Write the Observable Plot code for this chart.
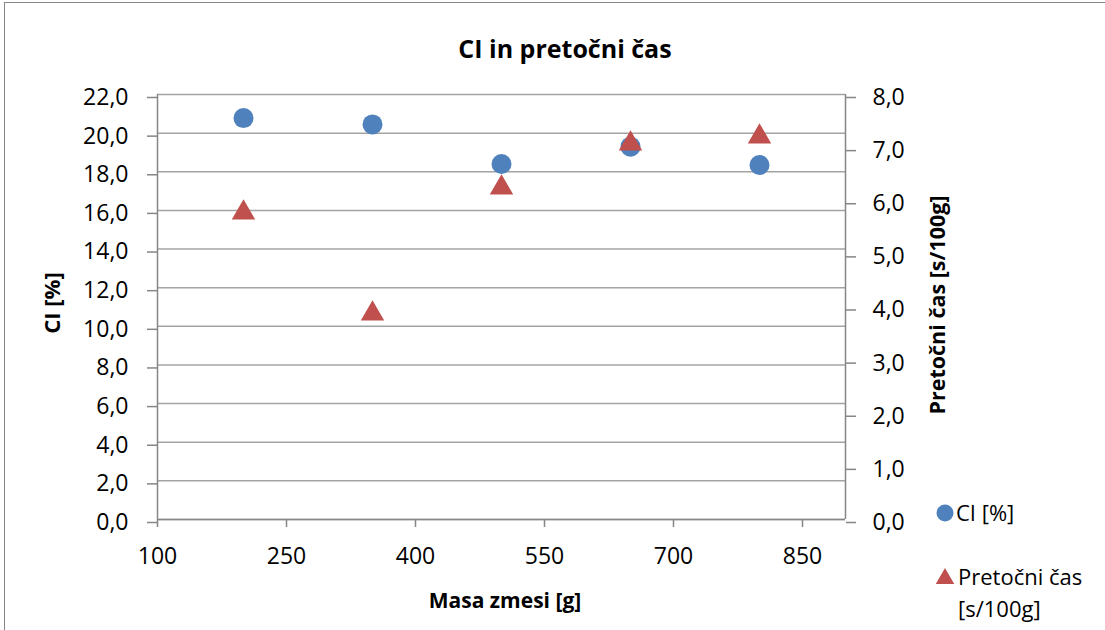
<!DOCTYPE html>
<html>
<head>
<meta charset="utf-8">
<script src="https://cdn.jsdelivr.net/npm/d3@7"></script>
<script src="https://cdn.jsdelivr.net/npm/@observablehq/plot@0.6"></script>
<style>
  html, body { margin: 0; padding: 0; background: #fff; }
  #chart { width: 1105px; height: 630px; }
</style>
</head>
<body>
<div id="chart"></div>
<script>
// ---- data ----
const masa = [200, 350, 500, 650, 800];
const ciValues = [20.78, 20.45, 18.4, 19.3, 18.35];
const casValues = [5.84, 3.94, 6.31, 7.14, 7.27];
const xTicks = [100, 250, 400, 550, 700, 850];
const yLeftTicks = [0, 2, 4, 6, 8, 10, 12, 14, 16, 18, 20, 22];
const yRightTicks = [0, 1, 2, 3, 4, 5, 6, 7, 8];
const title = "CI in pretočni čas";
const xTitle = "Masa zmesi [g]";
const yLeftTitle = "CI [%]";
const yRightTitle = "Pretočni čas [s/100g]";
const legendCI = "CI [%]";
const legendCas = ["Pretočni čas", "[s/100g]"];

const k = 22 / 8; // right axis → left axis units
const fmt = d => d.toFixed(1).replace(".", ",");

const ciData = masa.map((m, i) => ({ m, v: ciValues[i] }));
const casData = masa.map((m, i) => ({ m, v: casValues[i] }));

const FONT = "'Open Sans', Lato, sans-serif";
const axisColor = "#868686";

const plot = Plot.plot({
  width: 1105,
  height: 630,
  marginLeft: 157,
  marginRight: 260,
  marginTop: 94,
  marginBottom: 111,
  style: { fontFamily: FONT, fontSize: "23px", color: "#000", background: "#fff" },
  x: { domain: [100, 900] },
  y: { domain: [0, 22] },
  marks: [
    Plot.gridY(yLeftTicks, { stroke: "#a3a3a3", strokeOpacity: 1, strokeWidth: 1.5 }),
    Plot.ruleX([100, 900], { stroke: axisColor, strokeWidth: 1.5 }),
    Plot.ruleY([0], { stroke: axisColor, strokeWidth: 1.5 }),
    Plot.axisY(yLeftTicks, {
      anchor: "left", tickSize: 10, tickPadding: 19, stroke: axisColor, strokeWidth: 1.5,
      tickFormat: fmt, label: null, fill: "#000", dy: 3
    }),
    Plot.axisY(yRightTicks.map(v => v * k), {
      anchor: "right", tickSize: 10, tickPadding: 17, stroke: axisColor, strokeWidth: 1.5,
      tickFormat: d => fmt(d / k), label: null, fill: "#000", dy: 3
    }),
    Plot.axisX(xTicks, {
      anchor: "bottom", tickSize: 8, tickPadding: 20, stroke: axisColor, strokeWidth: 1.5,
      tickFormat: d => String(d), label: null, fill: "#000"
    }),
    Plot.dot(ciData, { x: "m", y: "v", r: 10, symbol: "circle", fill: "#4f81bd", stroke: "none" }),
    Plot.dot(casData, { x: "m", y: d => d.v * k, r: 8.7, symbol: "triangle", fill: "#c0504d", stroke: "none", dy: 3.5 })
  ]
});

document.getElementById("chart").appendChild(plot);

// ---- decorations (title, axis titles, legend, frame) ----
const svg = d3.select(plot);
svg.append("rect")
  .attr("x", 4.5).attr("y", 2.5).attr("width", 1120).attr("height", 650)
  .attr("fill", "none").attr("stroke", "#868686").attr("stroke-width", 1);

const deco = svg.append("g").attr("font-family", FONT).attr("fill", "#000");

deco.append("text").text(title)
  .attr("x", 565).attr("y", 58).attr("text-anchor", "middle")
  .attr("font-weight", "bold").attr("font-size", 25);

deco.append("text").text(xTitle)
  .attr("x", 505).attr("y", 608).attr("text-anchor", "middle")
  .attr("font-weight", "bold").attr("font-size", 21);

deco.append("text").text(yLeftTitle)
  .attr("transform", "translate(60,303) rotate(-90)").attr("text-anchor", "middle")
  .attr("font-weight", "bold").attr("font-size", 22);

deco.append("text").text(yRightTitle)
  .attr("transform", "translate(945,305) rotate(-90)").attr("text-anchor", "middle")
  .attr("font-weight", "bold").attr("font-size", 21.5);

const leg = deco.append("g").attr("font-size", 22).attr("text-anchor", "start");
leg.append("circle").attr("cx", 945).attr("cy", 513).attr("r", 8.5).attr("fill", "#4f81bd");
leg.append("text").text(legendCI).attr("x", 956).attr("y", 521);
leg.append("path").attr("d", d3.symbol(d3.symbolTriangle, 148)()).attr("transform", "translate(945,578.7)").attr("fill", "#c0504d");
leg.append("text").text(legendCas[0]).attr("x", 958).attr("y", 585);
leg.append("text").text(legendCas[1]).attr("x", 958).attr("y", 617);
</script>
</body>
</html>
